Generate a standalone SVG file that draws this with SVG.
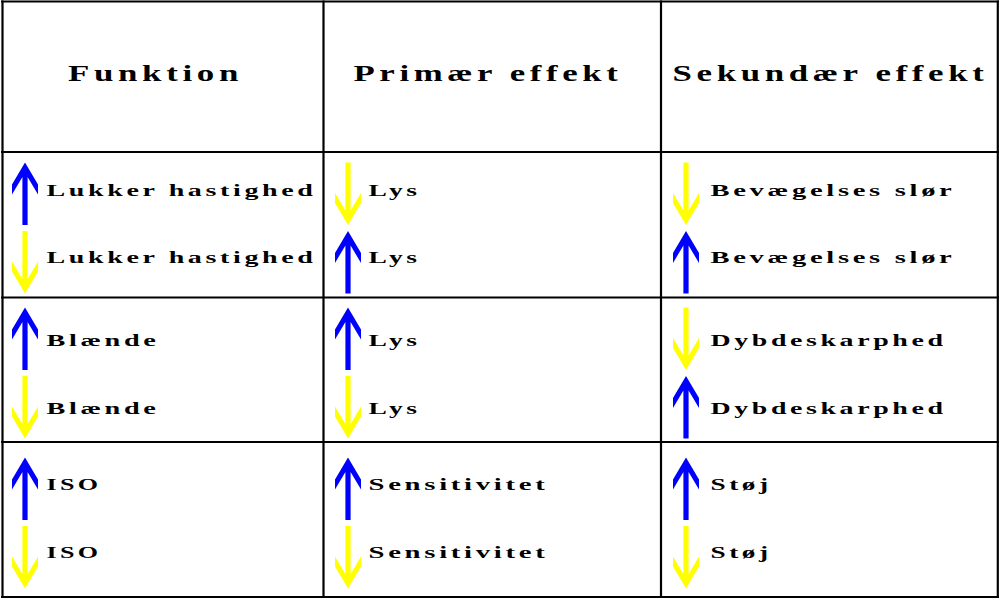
<svg xmlns="http://www.w3.org/2000/svg" xmlns:xlink="http://www.w3.org/1999/xlink" width="1000" height="600" viewBox="0 0 1000 600">
<style>
.grid{stroke:#000;stroke-width:2.2;fill:none}
.h{font-family:"Liberation Serif","Times New Roman",serif;font-weight:bold;font-size:22.5px;letter-spacing:3px;fill:#000}
.t{font-family:"Liberation Serif","Times New Roman",serif;font-weight:bold;font-size:17px;letter-spacing:2.2px;fill:#000}
.up{fill:#0000ff}
.dn{fill:#ffff00}
</style>
<defs>
<path id="arrowUp" d="M0,0 L13,22 L13,32 L2.6,14.5 L2.6,62.5 L-2.6,62.5 L-2.6,14.5 L-13,32 L-13,22 Z"/>
<path id="arrowDown" d="M0,62.5 L13,40.5 L13,30.5 L2.6,48 L2.6,0 L-2.6,0 L-2.6,48 L-13,30.5 L-13,40.5 Z"/>
</defs>
<rect width="1000" height="600" fill="#fff"/>
<g id="grid" class="grid">
<line x1="1" y1="1.5" x2="999" y2="1.5"/>
<line x1="1" y1="152" x2="999" y2="152"/>
<line x1="1" y1="297.5" x2="999" y2="297.5"/>
<line x1="1" y1="442" x2="999" y2="442"/>
<line x1="1" y1="597" x2="999" y2="597"/>
<line x1="2.5" y1="0.5" x2="2.5" y2="598"/>
<line x1="323.5" y1="0.5" x2="323.5" y2="598"/>
<line x1="661" y1="0.5" x2="661" y2="598"/>
<line x1="997.8" y1="0.5" x2="997.8" y2="598"/>
</g>
<g id="header">
<text class="h" x="68" y="80.5" textLength="175" lengthAdjust="spacingAndGlyphs">Funktion</text>
<text class="h" x="353.5" y="80.5" textLength="269" lengthAdjust="spacingAndGlyphs">Primær effekt</text>
<text class="h" x="672.5" y="80.5" textLength="316" lengthAdjust="spacingAndGlyphs">Sekundær effekt</text>
</g>
<g id="cell-a1">
<use href="#arrowUp" class="up" x="25" y="162.5"/>
<use href="#arrowDown" class="dn" x="25" y="231"/>
<text class="t" x="46.5" y="196" textLength="270" lengthAdjust="spacingAndGlyphs">Lukker hastighed</text>
<text class="t" x="46.5" y="263" textLength="270" lengthAdjust="spacingAndGlyphs">Lukker hastighed</text>
</g>
<g id="cell-a2">
<use href="#arrowDown" class="dn" x="348" y="162.5"/>
<use href="#arrowUp" class="up" x="348" y="231"/>
<text class="t" x="368.5" y="196" textLength="52" lengthAdjust="spacingAndGlyphs">Lys</text>
<text class="t" x="368.5" y="263" textLength="52" lengthAdjust="spacingAndGlyphs">Lys</text>
</g>
<g id="cell-a3">
<use href="#arrowDown" class="dn" x="686" y="162.5"/>
<use href="#arrowUp" class="up" x="686" y="231"/>
<text class="t" x="710.5" y="196" textLength="245" lengthAdjust="spacingAndGlyphs">Bevægelses slør</text>
<text class="t" x="710.5" y="263" textLength="245" lengthAdjust="spacingAndGlyphs">Bevægelses slør</text>
</g>
<g id="cell-b1">
<use href="#arrowUp" class="up" x="25" y="307.5"/>
<use href="#arrowDown" class="dn" x="25" y="376"/>
<text class="t" x="46.5" y="346" textLength="113" lengthAdjust="spacingAndGlyphs">Blænde</text>
<text class="t" x="46.5" y="413.5" textLength="113" lengthAdjust="spacingAndGlyphs">Blænde</text>
</g>
<g id="cell-b2">
<use href="#arrowUp" class="up" x="348" y="307.5"/>
<use href="#arrowDown" class="dn" x="348" y="376"/>
<text class="t" x="368.5" y="346" textLength="52" lengthAdjust="spacingAndGlyphs">Lys</text>
<text class="t" x="368.5" y="413.5" textLength="52" lengthAdjust="spacingAndGlyphs">Lys</text>
</g>
<g id="cell-b3">
<use href="#arrowDown" class="dn" x="686" y="307.5"/>
<use href="#arrowUp" class="up" x="686" y="376"/>
<text class="t" x="710.5" y="346" textLength="236" lengthAdjust="spacingAndGlyphs">Dybdeskarphed</text>
<text class="t" x="710.5" y="413.5" textLength="236" lengthAdjust="spacingAndGlyphs">Dybdeskarphed</text>
</g>
<g id="cell-c1">
<use href="#arrowUp" class="up" x="25" y="457.5"/>
<use href="#arrowDown" class="dn" x="25" y="526"/>
<text class="t" x="46.5" y="490" textLength="55" lengthAdjust="spacingAndGlyphs">ISO</text>
<text class="t" x="46.5" y="558" textLength="55" lengthAdjust="spacingAndGlyphs">ISO</text>
</g>
<g id="cell-c2">
<use href="#arrowUp" class="up" x="348" y="457.5"/>
<use href="#arrowDown" class="dn" x="348" y="526"/>
<text class="t" x="368.5" y="490" textLength="180" lengthAdjust="spacingAndGlyphs">Sensitivitet</text>
<text class="t" x="368.5" y="558" textLength="180" lengthAdjust="spacingAndGlyphs">Sensitivitet</text>
</g>
<g id="cell-c3">
<use href="#arrowUp" class="up" x="686" y="457.5"/>
<use href="#arrowDown" class="dn" x="686" y="526"/>
<text class="t" x="710.5" y="490" textLength="61" lengthAdjust="spacingAndGlyphs">Støj</text>
<text class="t" x="710.5" y="558" textLength="61" lengthAdjust="spacingAndGlyphs">Støj</text>
</g>
</svg>
